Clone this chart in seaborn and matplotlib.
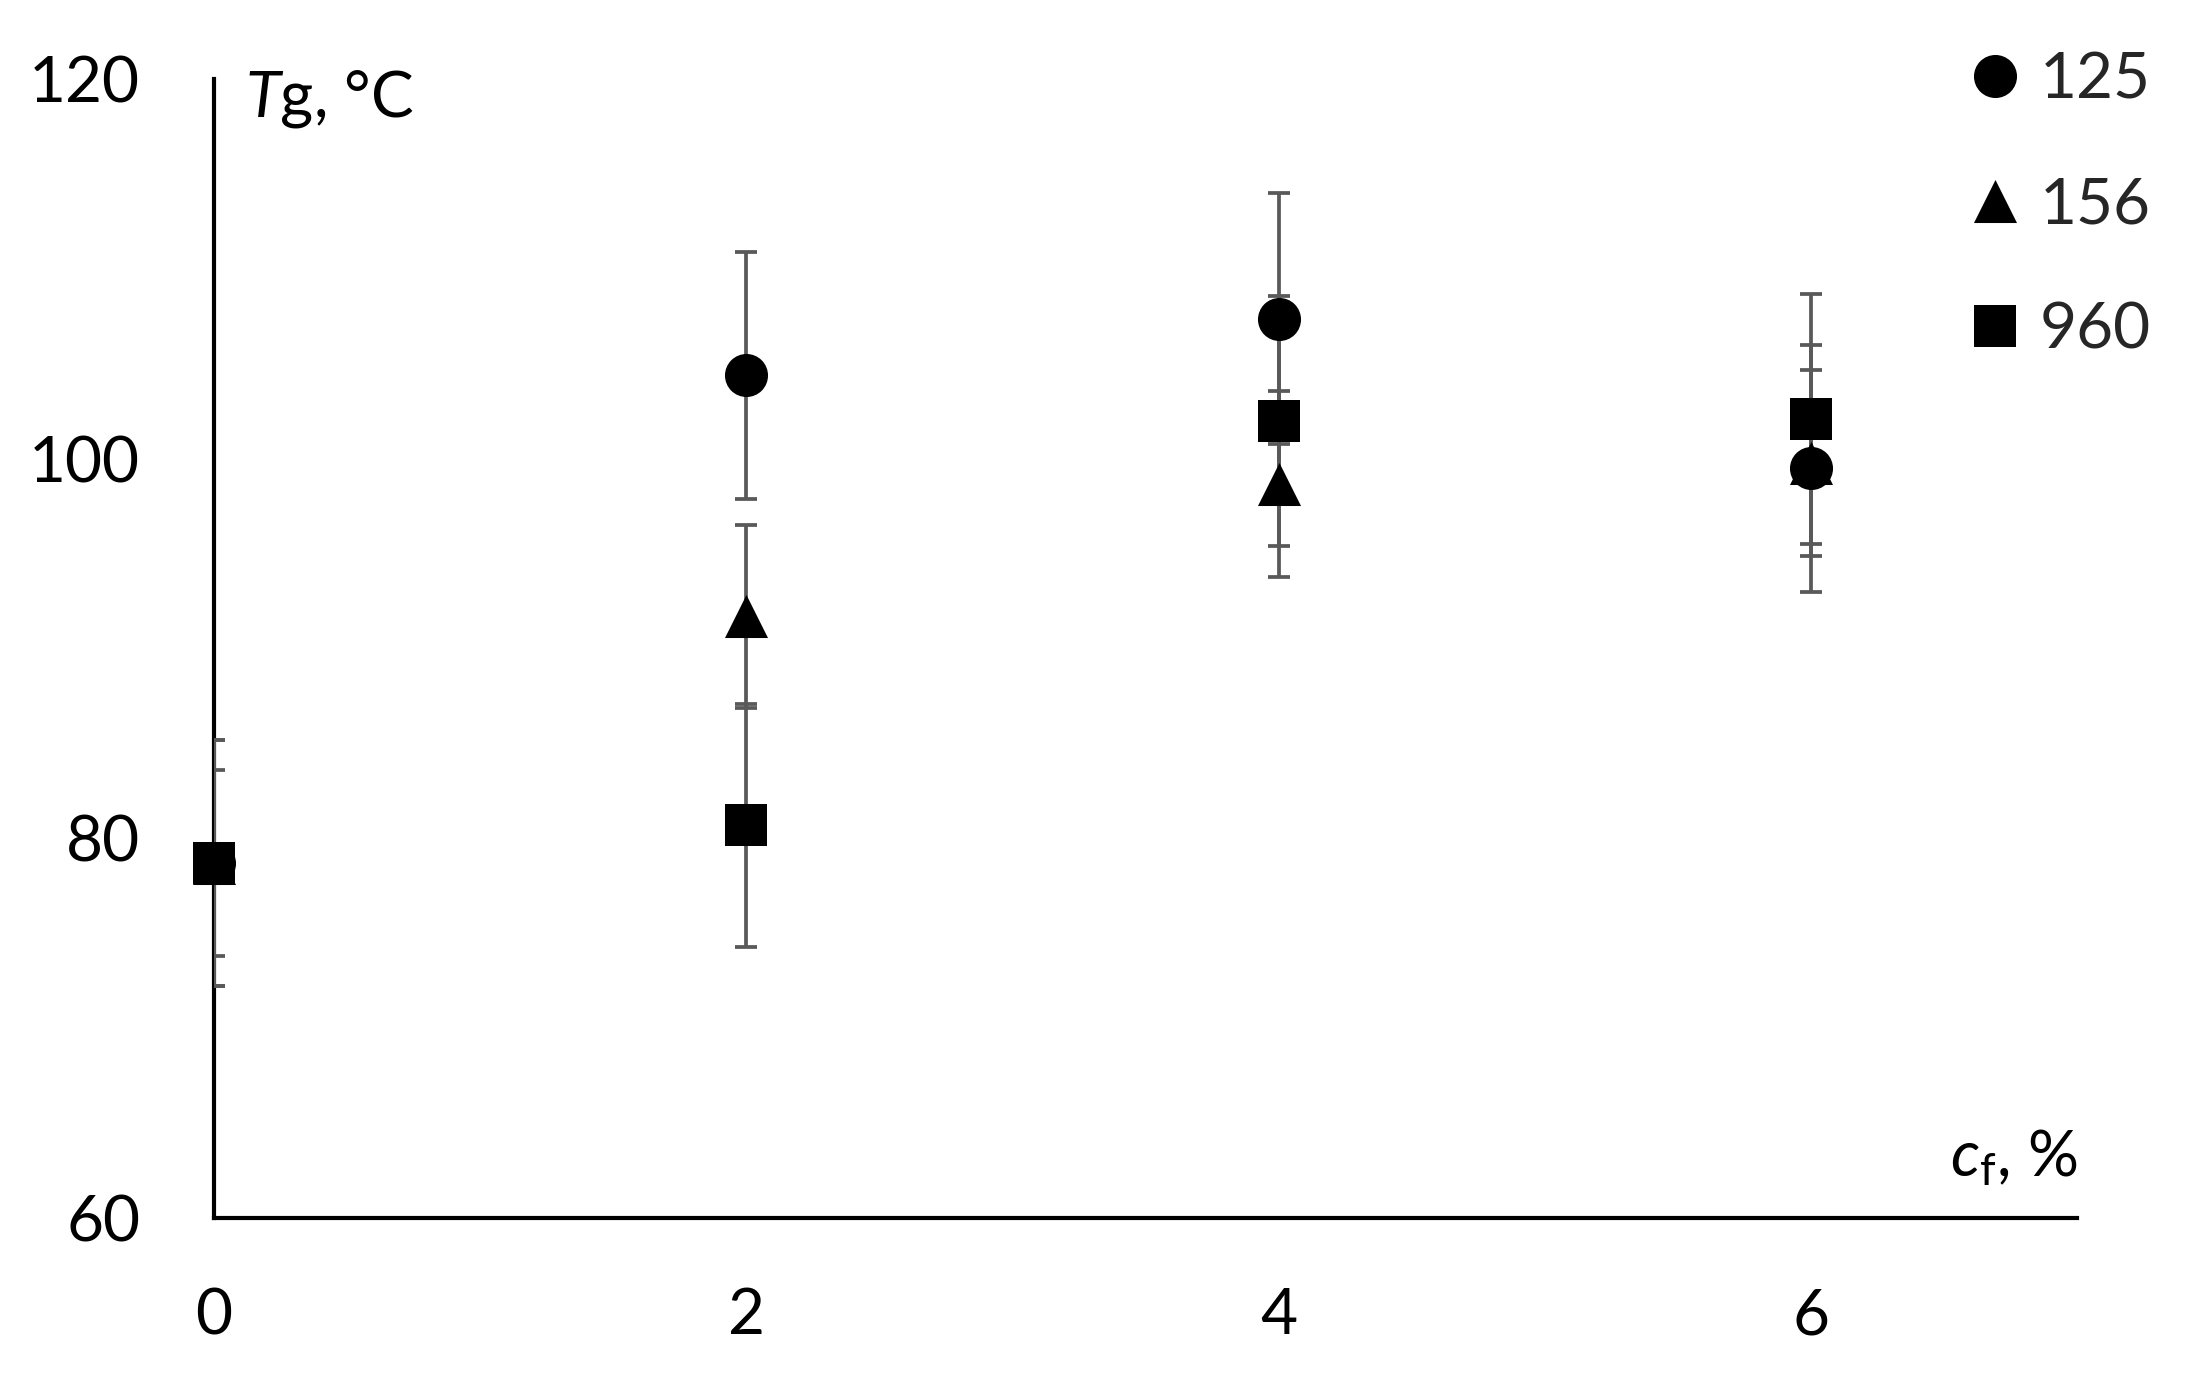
import matplotlib
matplotlib.use("Agg")
import matplotlib.pyplot as plt
import seaborn as sns
import numpy as np

# Datos
cf = [0, 2, 4, 6]
series = ["125", "156", "960"]
tg_125 = [78.7, 104.4, 107.4, 99.5]
err_125 = [6.5, 6.5, 6.6, 6.5]
tg_156 = [78.7, 91.7, 98.7, 99.8]
err_156 = [4.9, 4.8, 4.9, 4.9]
tg_960 = [78.7, 80.7, 102.0, 102.1]
err_960 = [6.5, 6.4, 6.6, 6.6]

sns.set_theme(style="white")
plt.rcParams["font.family"] = ["Lato", "DejaVu Sans"]
plt.rcParams["mathtext.fontset"] = "custom"
plt.rcParams["mathtext.rm"] = "Lato"
plt.rcParams["mathtext.it"] = "Lato:italic"

fs = 46
fig = plt.figure(figsize=(21.9, 13.8), dpi=100)
ax = fig.add_axes([0.0976, 0.1174, 0.851, 0.825])

markers = ["o", "^", "s"]
sizes = [31, 31, 30]
tgs = [tg_125, tg_156, tg_960]
errs = [err_125, err_156, err_960]

# barras de error primero (gris), luego marcadores
for tg, err in zip(tgs, errs):
    ax.errorbar(cf, tg, yerr=err, fmt="none", ecolor="#595959",
                elinewidth=2.7, capsize=8, capthick=2.7, zorder=3)

for name, tg, m, s in zip(series, tgs, markers, sizes):
    sns.scatterplot(x=cf, y=tg, marker=m, s=s**2, color="black",
                    edgecolor="black", linewidth=0, label=name,
                    ax=ax, zorder=4, clip_on=False)

ax.set_xlim(0, 7)
ax.set_ylim(60, 120)
ax.set_xticks([0, 2, 4, 6])
ax.set_yticks([60, 80, 100, 120])
ax.set_xlabel("")
ax.set_ylabel("")

sns.despine(ax=ax)
for sp in ["left", "bottom"]:
    ax.spines[sp].set_linewidth(3.0)
    ax.spines[sp].set_color("black")
    ax.spines[sp].set_zorder(2)

ax.tick_params(axis="both", direction="out", length=18, width=3.0,
               color="black", labelsize=fs, labelcolor="black")
ax.tick_params(axis="x", pad=32)
ax.tick_params(axis="y", pad=35)

fig.text(0.1119, 0.9159, r"$\mathit{T}$g, °C", fontsize=fs,
         ha="left", va="baseline", color="black")
fig.text(0.9484, 0.148, r"$\mathit{c}_{\mathrm{f}}$, %", fontsize=fs,
         ha="right", va="baseline", color="black")

handles, labels = ax.get_legend_handles_labels()
ax.legend(handles, labels, loc="upper right",
          bbox_to_anchor=(0.982, 0.963), bbox_transform=fig.transFigure,
          frameon=False, fontsize=fs, borderpad=0, borderaxespad=0,
          handlelength=0.8, handletextpad=0.3, labelspacing=1.05,
          scatteryoffsets=[0.5])

fig.savefig("out.png", dpi=100)
